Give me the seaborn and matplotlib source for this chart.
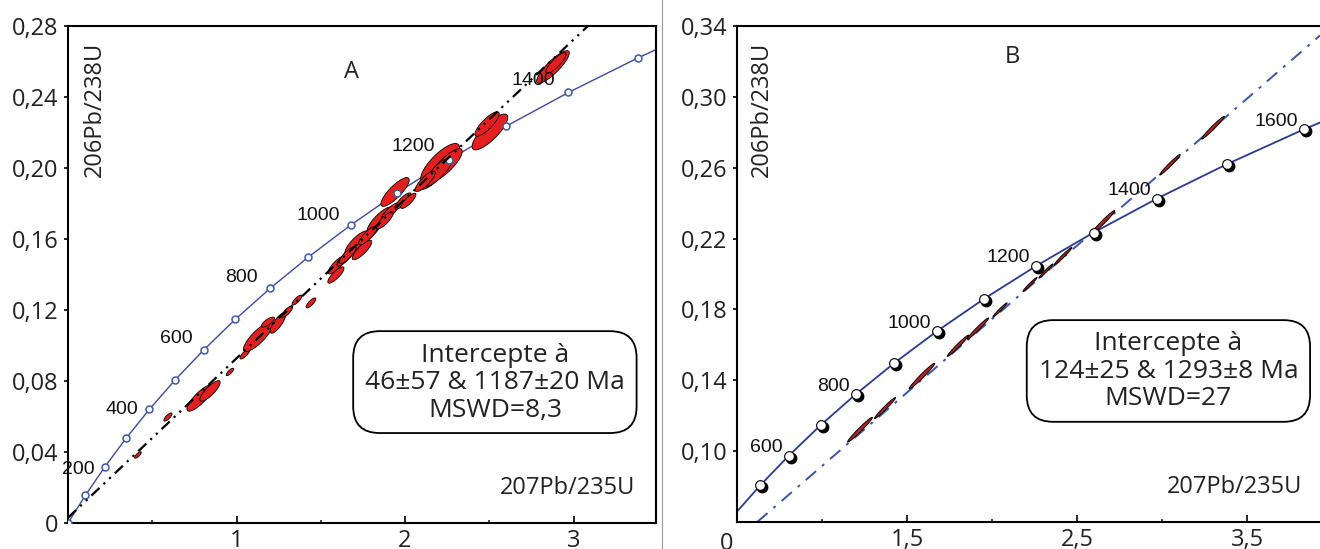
import numpy as np
import matplotlib
matplotlib.use('Agg')
import matplotlib.pyplot as plt
import seaborn as sns
from matplotlib.patches import FancyBboxPatch
from matplotlib.transforms import offset_copy

# concordia: age (Ma), 207Pb/235U, 206Pb/238U
conc_age = [0, 100, 200, 300, 400, 500, 600, 700, 800, 900, 1000,
            1100, 1200, 1300, 1400, 1500, 1600, 1700]
conc_207 = [0.0, 0.1035, 0.2177, 0.3438, 0.4828, 0.6362, 0.8056, 0.9925, 1.1988,
            1.4264, 1.6774, 1.9546, 2.2604, 2.5978, 2.9701, 3.3813, 3.8350, 4.3350]
conc_206 = [0.0, 0.01563, 0.03151, 0.04764, 0.06402, 0.08065, 0.09754, 0.11470,
            0.13213, 0.14983, 0.16780, 0.18606, 0.20459, 0.22342, 0.24255,
            0.26197, 0.28169, 0.30173]

# panel A
a_labels = [200, 400, 600, 800, 1000, 1200, 1400]
a_label_offsets = [(-10, -2), (-11, 0), (-11, 11), (-12, 11), (-11, 10), (-14, 13), (-13, 12)]
a_int_x = [0.0464, 2.219]     # intercepts 46 & 1187 Ma
a_int_y = [0.00716, 0.2022]
a_ell_x = [0.415, 0.593, 0.783, 0.843, 0.961, 1.050, 1.128, 1.187, 1.246, 1.300,
           1.359, 1.442, 1.596, 1.590, 1.644, 1.715, 1.745, 1.804, 1.852, 1.911,
           1.988, 1.941, 2.166, 2.208, 2.243, 2.196, 2.504, 2.487, 2.878, 2.896,
           1.660, 1.780, 1.880, 2.020, 2.120]
a_ell_y = [0.0383, 0.0597, 0.0704, 0.0744, 0.0851, 0.0952, 0.1048, 0.1132, 0.1127, 0.1190,
           0.1256, 0.1240, 0.1454, 0.1397, 0.1493, 0.1577, 0.1538, 0.1640, 0.1707, 0.1752,
           0.1814, 0.1865, 0.1949, 0.2028, 0.2017, 0.1977, 0.2203, 0.2248, 0.2569, 0.2592,
           0.1510, 0.1620, 0.1705, 0.1815, 0.1925]
a_ell_sx = [0.020, 0.024, 0.077, 0.060, 0.022, 0.029, 0.087, 0.039, 0.046, 0.033,
            0.029, 0.029, 0.053, 0.048, 0.048, 0.072, 0.058, 0.048, 0.077, 0.053,
            0.048, 0.084, 0.072, 0.115, 0.097, 0.084, 0.106, 0.072, 0.097, 0.060,
            0.050, 0.055, 0.050, 0.045, 0.060]
a_ell_sy = [0.0018, 0.0023, 0.0074, 0.0058, 0.0021, 0.0028, 0.0083, 0.0028, 0.0058, 0.0032,
            0.0028, 0.0028, 0.0051, 0.0046, 0.0046, 0.0069, 0.0055, 0.0046, 0.0074, 0.0051,
            0.0046, 0.0081, 0.0069, 0.0110, 0.0092, 0.0081, 0.0101, 0.0069, 0.0092, 0.0058,
            0.0048, 0.0053, 0.0048, 0.0043, 0.0058]
a_ell_rho = [0.78, 0.78, 0.83, 0.83, 0.80, 0.80, 0.83, 0.75, 0.80, 0.80,
             0.80, 0.80, 0.83, 0.83, 0.83, 0.80, 0.83, 0.83, 0.82, 0.83,
             0.83, 0.83, 0.83, 0.79, 0.83, 0.83, 0.81, 0.83, 0.86, 0.85,
             0.83, 0.83, 0.83, 0.83, 0.83]

# panel B
b_labels = [600, 800, 1000, 1200, 1400, 1600]
b_int_x = [0.1299, 2.5731]    # intercepts 124 & 1293 Ma
b_int_y = [0.01942, 0.2221]
b_ell_x = [1.2235, 1.3706, 1.5882, 1.800, 1.9176, 2.047, 2.2235, 2.3176, 2.4176, 2.653, 3.047, 3.300]
b_ell_y = [0.1121, 0.1243, 0.1424, 0.1595, 0.1692, 0.1797, 0.1941, 0.2017, 0.2100, 0.2292, 0.2617, 0.2826]
b_ell_len = [35, 30, 36, 30, 30, 20, 20, 20, 25, 33, 29, 32]

theta = np.linspace(0, 2 * np.pi, 80)


def draw_ellipses(ax, xs, ys, sxs, sys_, rhos, face, lw):
    for x, y, sx, sy, r in zip(xs, ys, sxs, sys_, rhos):
        ex = x + sx * np.cos(theta)
        ey = y + sy * (r * np.cos(theta) + np.sqrt(1 - r * r) * np.sin(theta))
        ax.fill(ex, ey, facecolor=face, edgecolor='black', lw=lw, zorder=3)


def comma(v, nd=2):
    return '0' if v == 0 else f'{v:.{nd}f}'.replace('.', ',')


sns.set_theme(style='white')
plt.rcParams['font.family'] = ['Open Sans', 'DejaVu Sans']
plt.rcParams['text.color'] = '#222222'

fig = plt.figure(figsize=(13.2, 5.49), dpi=100)
axA = fig.add_axes([68 / 1320, 1 - 523 / 549, 588 / 1320, 497 / 549])
axB = fig.add_axes([737 / 1320, 1 - 522 / 549, 583 / 1320, 496 / 549])

box_font = 19
tick_font = 17

# ---------- A ----------
ax = axA
sns.lineplot(x=conc_207, y=conc_206, sort=False, ax=ax, color='#3d4b9a', lw=1.0, zorder=2)
ax.plot(conc_207, conc_206, 'o', mfc='white', mec='#3d5aa8', ms=5, mew=1.1, zorder=4)
draw_ellipses(ax, a_ell_x, a_ell_y, a_ell_sx, a_ell_sy, a_ell_rho, '#e3201f', 0.6)
ax.axline((a_int_x[0], a_int_y[0]), (a_int_x[1], a_int_y[1]), color='black', lw=1.6,
          ls=(0, (5, 2.5, 1, 2.5, 1, 2.5)), zorder=5)
for age, (dx, dy) in zip(a_labels, a_label_offsets):
    i = conc_age.index(age)
    ax.annotate(str(age), (conc_207[i], conc_206[i]), xytext=(dx, dy), textcoords='offset pixels',
                ha='right', va='center', fontsize=14, family='Liberation Sans', color='#111111', zorder=6)
ax.set_xlim(0, 588 / 168.5)
ax.set_ylim(0, 0.28)
ax.set_yticks(np.arange(0, 0.2801, 0.04))
ax.set_yticklabels([comma(v) for v in np.arange(0, 0.2801, 0.04)])
ax.set_xticks([1, 2, 3])
ax.set_xticklabels(['1', '2', '3'])
ax.set_xticks([0.5, 1.5, 2.5], minor=True)
ax.text(0.025, 0.968, '206Pb/238U', transform=ax.transAxes, rotation=90, ha='left', va='top',
        fontsize=tick_font)
ax.text(0.964, 0.07, '207Pb/235U', transform=ax.transAxes, ha='right', va='center', fontsize=tick_font)
ax.text(0.482, 0.907, 'A', transform=ax.transAxes, ha='center', va='center', fontsize=17)
ax.add_patch(FancyBboxPatch((0.485, 0.181), 0.482, 0.205, transform=ax.transAxes,
                            boxstyle='round,pad=0,rounding_size=0.045', mutation_aspect=1.19,
                            fc='white', ec='black', lw=1.3, zorder=7))
ax.text(0.726, 0.282, 'Intercepte à\n46±57 & 1187±20 Ma\nMSWD=8,3', transform=ax.transAxes,
        ha='center', va='center', fontsize=box_font, linespacing=1.12, zorder=8)

# ---------- B ----------
ax = axB
sns.lineplot(x=conc_207, y=conc_206, sort=False, ax=ax, color='#2b3990', lw=1.3, zorder=2)
shadow = offset_copy(ax.transData, fig=fig, x=2, y=-2, units='dots')
ax.plot(conc_207[5:], conc_206[5:], 'o', color='black', ms=7.5, transform=shadow, zorder=4)
ax.plot(conc_207[5:], conc_206[5:], 'o', mfc='white', mec='black', ms=7, mew=0.8, zorder=5)
b_sx = [0.00208 * L for L in b_ell_len]
b_sy = [0.0002 * L for L in b_ell_len]
ax.axline((b_int_x[0], b_int_y[0]), (b_int_x[1], b_int_y[1]), color='#3a55a8', lw=1.4,
          ls=(0, (7, 4, 1.5, 4)), zorder=2)
draw_ellipses(ax, b_ell_x, b_ell_y, b_sx, b_sy, [0.98] * len(b_ell_len), '#b02424', 0.7)
for age in b_labels:
    i = conc_age.index(age)
    ax.annotate(str(age), (conc_207[i], conc_206[i]), xytext=(-6, 8), textcoords='offset pixels',
                ha='right', va='center', fontsize=14, family='Liberation Sans', color='#111111', zorder=6)
ax.set_xlim(0.5, 0.5 + 583 / 170)
ax.set_ylim(0.06, 0.34)
ax.set_yticks(np.arange(0.10, 0.3401, 0.04))
ax.set_yticklabels([comma(v) for v in np.arange(0.10, 0.3401, 0.04)])
ax.set_xticks([1.5, 2.5, 3.5])
ax.set_xticklabels(['1,5', '2,5', '3,5'])
ax.set_xticks([1.0, 2.0, 3.0], minor=True)
ax.spines['right'].set_visible(False)
ax.text(-0.017, -0.045, '0', transform=ax.transAxes, ha='center', va='center', fontsize=tick_font)
ax.text(0.022, 0.968, '206Pb/238U', transform=ax.transAxes, rotation=90, ha='left', va='top',
        fontsize=tick_font)
ax.text(0.969, 0.0706, '207Pb/235U', transform=ax.transAxes, ha='right', va='center', fontsize=tick_font)
ax.text(0.472, 0.9375, 'B', transform=ax.transAxes, ha='center', va='center', fontsize=17)
ax.add_patch(FancyBboxPatch((0.497, 0.202), 0.486, 0.205, transform=ax.transAxes,
                            boxstyle='round,pad=0,rounding_size=0.045', mutation_aspect=1.19,
                            fc='white', ec='black', lw=1.3, zorder=7))
ax.text(0.740, 0.304, 'Intercepte à\n124±25 & 1293±8 Ma\nMSWD=27', transform=ax.transAxes,
        ha='center', va='center', fontsize=box_font, linespacing=1.12, zorder=8)

for ax in (axA, axB):
    for s in ax.spines.values():
        s.set_color('black')
        s.set_linewidth(1.5)
    ax.tick_params(axis='y', which='major', direction='out', length=3, width=1.2, pad=4,
                   labelsize=tick_font, colors='black', labelcolor='#222222', left=True)
    ax.tick_params(axis='x', which='major', direction='in', length=5, width=1.2, pad=4,
                   labelsize=tick_font, colors='black', labelcolor='#222222', bottom=True)
    ax.tick_params(axis='x', which='minor', direction='in', length=2.5, width=1.2, bottom=True)
    ax.set_xlabel('')
    ax.set_ylabel('')

fig.add_artist(plt.Line2D([662 / 1320] * 2, [0, 1], color='#999999', lw=0.8))
fig.savefig('out.png', dpi=100)
